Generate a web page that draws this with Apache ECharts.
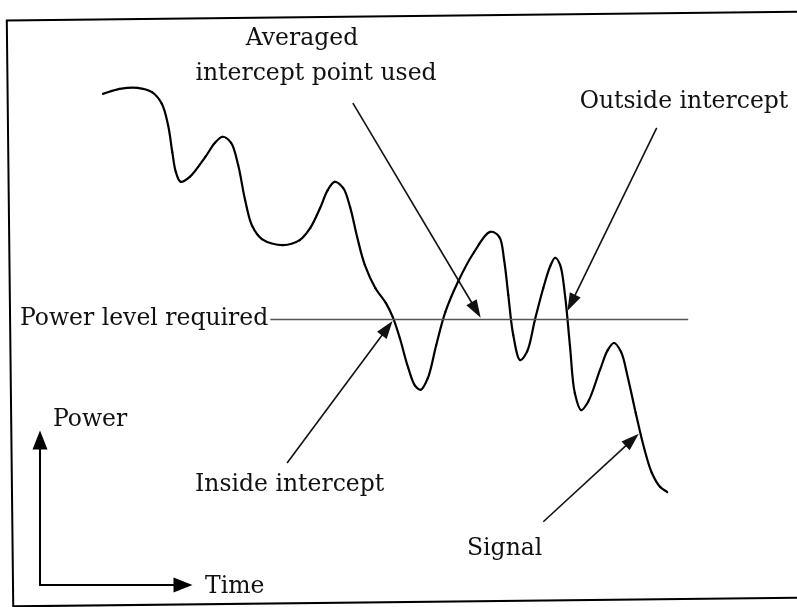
<!DOCTYPE html>
<html>
<head>
<meta charset="utf-8">
<script src="https://cdn.jsdelivr.net/npm/echarts@6/dist/echarts.min.js"></script>
<style>
  html, body { margin: 0; padding: 0; background: #fff; }
  #powerChart { width: 797px; height: 607px; }
</style>
</head>
<body>
<div id="powerChart"></div>
<script>
  // signal trace (time / power, arbitrary units)
  const signalTime = [9.0, 11.4, 13.9, 16.0, 17.4, 18.3, 18.9, 19.4, 20.1, 21.4, 23.6, 25.0, 26.1, 27.3, 28.3,
    29.3, 30.3, 31.7, 34.7, 37.1, 38.6, 40.0, 41.1, 42.1, 43.3, 44.3, 45.3, 46.4, 47.9, 49.4, 50.4, 51.4,
    52.6, 53.6, 54.4, 55.4, 56.6, 57.9, 59.7, 62.0, 64.3, 65.6, 66.3, 66.9, 67.6, 68.6, 69.6, 70.7, 71.9,
    72.9, 73.6, 74.3, 75.0, 75.7, 76.4, 77.3, 78.3, 80.0, 81.1, 82.0, 83.0, 84.0, 85.1, 86.3, 87.4, 88.6, 89.6];
  const signalPower = [89.3, 90.2, 90.4, 89.6, 87.5, 83.6, 78.7, 75.1, 73.3, 74.2, 77.8, 80.4, 81.5, 80.4, 76.4,
    70.0, 65.3, 62.9, 61.8, 62.7, 64.9, 68.5, 71.8, 73.3, 72.2, 68.7, 63.3, 58.2, 54.0, 51.3, 48.7, 44.9,
    39.5, 36.2, 35.5, 37.6, 43.6, 49.6, 55.1, 60.5, 64.2, 63.3, 59.1, 52.7, 45.5, 40.9, 42.5, 48.2, 54.0,
    58.0, 59.5, 58.2, 52.7, 43.6, 34.9, 31.8, 33.3, 39.1, 42.7, 44.0, 42.4, 37.6, 31.3, 24.9, 20.4, 17.8, 16.9];

  // required power level
  const requiredLevel = 48.4;
  const levelStart = 32.9;
  const levelEnd = 92.6;

  // annotation arrows: tail and head in time / power units
  const arrowTails = [[44.7, 87.6], [88.1, 83.1], [35.3, 22.2], [71.9, 11.5]];
  const arrowHeads = [[62.3, 50.0], [75.9, 51.3], [49.6, 46.7], [84.6, 26.4]];

  const font = '23.5px "DejaVu Serif", serif';

  let points = signalTime.map((t, i) => [t, signalPower[i]]);

  // smooth hand-drawn look: centripetal catmull-rom through the traced points
  function renderSignal(params, api) {
    if (params.dataIndex !== 0) return null;
    let pts = points.map(p => api.coord(p));
    let n = pts.length;
    let children = [];
    for (let i = 0; i < n - 1; i++) {
      let p0 = pts[Math.max(i - 1, 0)], p1 = pts[i], p2 = pts[i + 1], p3 = pts[Math.min(i + 2, n - 1)];
      let d1 = Math.hypot(p1[0] - p0[0], p1[1] - p0[1]);
      let d2 = Math.hypot(p2[0] - p1[0], p2[1] - p1[1]);
      let d3 = Math.hypot(p3[0] - p2[0], p3[1] - p2[1]);
      let s1 = Math.sqrt(d1), s2 = Math.sqrt(d2), s3 = Math.sqrt(d3);
      let c1, c2;
      if (d1 < 1e-6) {
        c1 = [p1[0] + (p2[0] - p1[0]) / 3, p1[1] + (p2[1] - p1[1]) / 3];
      } else {
        let k = 3 * s1 * (s1 + s2);
        c1 = [0, 1].map(j => (d1 * p2[j] - d2 * p0[j] + (2 * d1 + 3 * s1 * s2 + d2) * p1[j]) / k);
      }
      if (d3 < 1e-6) {
        c2 = [p2[0] - (p2[0] - p1[0]) / 3, p2[1] - (p2[1] - p1[1]) / 3];
      } else {
        let k = 3 * s3 * (s3 + s2);
        c2 = [0, 1].map(j => (d3 * p1[j] - d2 * p3[j] + (2 * d3 + 3 * s3 * s2 + d2) * p2[j]) / k);
      }
      children.push({
        type: 'bezierCurve',
        shape: { x1: p1[0], y1: p1[1], x2: p2[0], y2: p2[1], cpx1: c1[0], cpy1: c1[1], cpx2: c2[0], cpy2: c2[1] },
        style: { stroke: '#000', fill: 'none', lineWidth: 2.2, lineCap: 'round' }
      });
    }
    return { type: 'group', children: children };
  }

  let lines = [
    [
      {
        coord: [levelStart, requiredLevel],
        symbol: 'none',
        lineStyle: { color: '#555', width: 1.3, type: 'solid' },
        label: {
          show: true, position: 'start', distance: 2,
          formatter: 'Power level required',
          color: '#111', fontFamily: '"DejaVu Serif", serif', fontSize: 23.5
        }
      },
      { coord: [levelEnd, requiredLevel], symbol: 'none' }
    ]
  ];
  arrowTails.forEach((tail, i) => {
    lines.push([
      { coord: tail, symbol: 'none', lineStyle: { color: '#111', width: 1.6, type: 'solid' } },
      { coord: arrowHeads[i], symbol: 'triangle', symbolSize: [12, 18] }
    ]);
  });

  let chart = echarts.init(document.getElementById('powerChart'));
  let option = {
    animation: false,
    backgroundColor: '#fff',
    grid: [
      { left: 40, top: 35, width: 700, height: 550 },
      { left: 40, top: 440, width: 143, height: 145 }
    ],
    xAxis: [
      { gridIndex: 0, type: 'value', min: 0, max: 100, show: false },
      {
        gridIndex: 1, type: 'value', min: 0, max: 1,
        name: 'Time', nameLocation: 'end', nameGap: 22,
        nameTextStyle: { color: '#111', fontFamily: '"DejaVu Serif", serif', fontSize: 23.5, verticalAlign: 'top', lineHeight: 4 },
        axisLine: { show: true, onZero: false, symbol: ['none', 'triangle'], symbolSize: [15, 19], lineStyle: { color: '#000', width: 2 } },
        axisTick: { show: false }, axisLabel: { show: false }, splitLine: { show: false }
      }
    ],
    yAxis: [
      { gridIndex: 0, type: 'value', min: 0, max: 100, show: false },
      {
        gridIndex: 1, type: 'value', min: 0, max: 1,
        name: 'Power', nameLocation: 'end', nameGap: 20,
        nameTextStyle: { color: '#111', fontFamily: '"DejaVu Serif", serif', fontSize: 23.5, align: 'left', verticalAlign: 'middle', padding: [0, 0, 0, 13] },
        axisLine: { show: true, onZero: false, symbol: ['none', 'triangle'], symbolSize: [15, 19], lineStyle: { color: '#000', width: 2 } },
        axisTick: { show: false }, axisLabel: { show: false }, splitLine: { show: false }
      }
    ],
    series: [
      {
        name: 'Signal',
        type: 'custom',
        coordinateSystem: 'cartesian2d',
        xAxisIndex: 0, yAxisIndex: 0,
        encode: { x: 0, y: 1 },
        data: points,
        renderItem: renderSignal,
        silent: true,
        markLine: {
          silent: true,
          animation: false,
          symbol: 'none',
          label: { show: false },
          data: lines
        }
      }
    ],
    graphic: [
      {
        type: 'rect', silent: true,
        shape: { x: 10, y: 16, width: 800, height: 586 },
        originX: 410, originY: 309, rotation: 0.011,
        style: { fill: 'none', stroke: '#000', lineWidth: 2 }
      },
      { type: 'text', style: { text: 'Averaged', x: 302, y: 39, font: font, fill: '#111', textAlign: 'center', textVerticalAlign: 'middle' } },
      { type: 'text', style: { text: 'intercept point used', x: 316, y: 74, font: font, fill: '#111', textAlign: 'center', textVerticalAlign: 'middle' } },
      { type: 'text', style: { text: 'Outside intercept', x: 684, y: 102, font: font, fill: '#111', textAlign: 'center', textVerticalAlign: 'middle' } },
      { type: 'text', style: { text: 'Inside intercept', x: 195, y: 485, font: font, fill: '#111', textAlign: 'left', textVerticalAlign: 'middle' } },
      { type: 'text', style: { text: 'Signal', x: 467, y: 549, font: font, fill: '#111', textAlign: 'left', textVerticalAlign: 'middle' } }
    ]
  };
  chart.setOption(option, true);
</script>
</body>
</html>
